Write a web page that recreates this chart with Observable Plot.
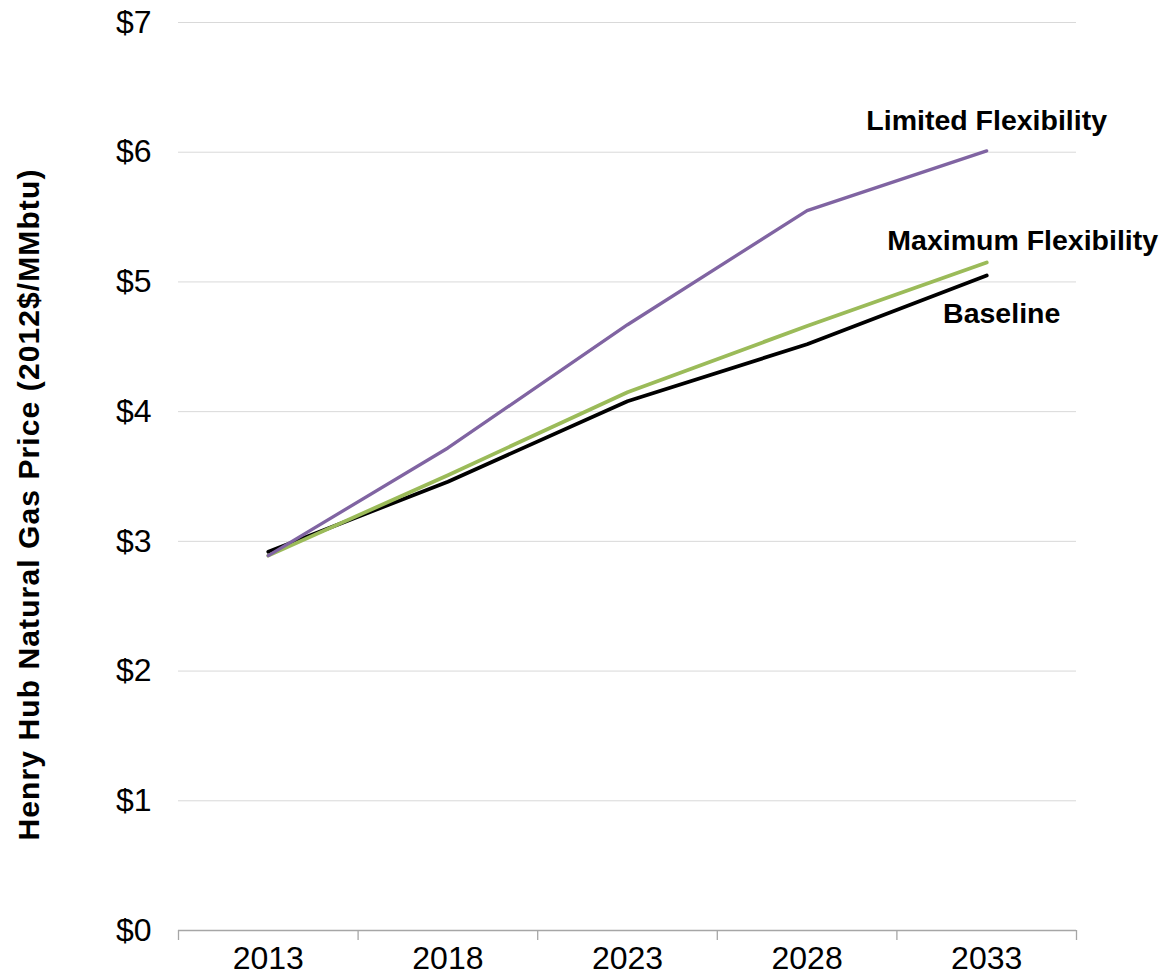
<!DOCTYPE html>
<html>
<head>
<meta charset="utf-8">
<script src="https://cdn.jsdelivr.net/npm/d3@7"></script>
<script src="https://cdn.jsdelivr.net/npm/@observablehq/plot@0.6"></script>
<style>
  body { margin: 0; background: #fff; }
  #chart svg { display: block; }
</style>
</head>
<body>
<div id="chart"></div>
<script>
const years = [2013, 2018, 2023, 2028, 2033];
const baseline = [2.92, 3.46, 4.08, 4.52, 5.05];
const maximumFlex = [2.89, 3.51, 4.15, 4.66, 5.15];
const limitedFlex = [2.89, 3.72, 4.67, 5.55, 6.01];
const yTicks = [0, 1, 2, 3, 4, 5, 6, 7];
const seriesNames = ["Baseline", "Maximum Flexibility", "Limited Flexibility"];
const seriesColors = ["#000000", "#9bbb59", "#8064a2"];
const yLabel = "Henry Hub Natural Gas Price (2012$/MMbtu)";

const seriesValues = [baseline, maximumFlex, limitedFlex];
const rows = seriesNames.flatMap((name, i) =>
  years.map((year, j) => ({ series: name, year, value: seriesValues[i][j] }))
);
const halfStep = (years[1] - years[0]) / 2;
const boundaries = [...years.map(y => y - halfStep), years[years.length - 1] + halfStep];
const lastPoints = seriesNames.map((name, i) => ({ series: name, year: years[years.length - 1], value: seriesValues[i][years.length - 1] }));
const labelOffsets = {
  "Limited Flexibility": { dx: 0, dy: -30 },
  "Maximum Flexibility": { dx: 36, dy: -22 },
  "Baseline": { dx: 15, dy: 38 }
};
const strokeWidths = { "Baseline": 3.8, "Maximum Flexibility": 3.8, "Limited Flexibility": 3.3 };

const font = "'Liberation Sans', Arial, sans-serif";

const chart = Plot.plot({
  width: 1159,
  height: 980,
  marginLeft: 178,
  marginRight: 83,
  marginTop: 22,
  marginBottom: 50,
  style: { fontFamily: font, background: "#fff", color: "#000", fontSize: "32px" },
  x: { type: "linear", domain: [boundaries[0], boundaries[boundaries.length - 1]] },
  y: { type: "linear", domain: [0, 7] },
  color: { domain: seriesNames, range: seriesColors },
  marks: [
    Plot.ruleY(yTicks.filter(d => d > 0), { stroke: "#d9d9d9", strokeWidth: 1 }),
    Plot.ruleY([0], { stroke: "#a6a6a6", strokeWidth: 1.3 }),
    Plot.ruleX(boundaries, { x: d => d, y1: 0, y2: 0, insetBottom: -10, stroke: "#a6a6a6", strokeWidth: 1.3 }),
    Plot.axisY({ ticks: yTicks, tickFormat: d => "$" + d, tickSize: 0, tickPadding: 27, fontSize: 32, label: null }),
    Plot.axisX({ ticks: years, tickFormat: d => String(d), tickSize: 0, tickPadding: 16, fontSize: 32, label: null }),
    ...seriesNames.map(name => Plot.line(rows.filter(r => r.series === name), {
      x: "year", y: "value", stroke: "series", strokeWidth: strokeWidths[name], curve: "linear"
    })),
    ...lastPoints.map(p => Plot.text([p], {
      x: "year", y: "value", text: "series",
      dx: labelOffsets[p.series].dx, dy: labelOffsets[p.series].dy,
      fontSize: 28.5, fontWeight: "bold", fill: "#000"
    })),
    Plot.text([yLabel], { x: null, y: null, text: d => d, frameAnchor: "left", textAnchor: "middle", rotate: -90, dx: -149, dy: 28, fontSize: 30, fontWeight: "bold", fill: "#000" })
  ]
});
chart.querySelectorAll("text").forEach(t => {
  if (t.textContent === yLabel) t.style.letterSpacing = "1.1px";
});
document.getElementById("chart").append(chart);
</script>
</body>
</html>
